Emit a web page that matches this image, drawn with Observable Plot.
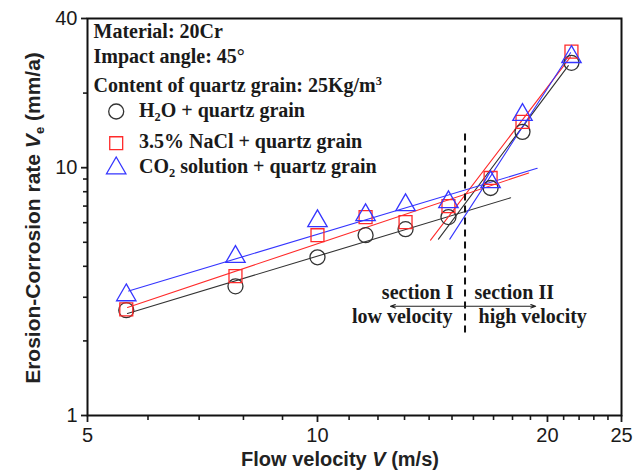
<!DOCTYPE html>
<html><head><meta charset="utf-8">
<script src="https://cdn.jsdelivr.net/npm/d3@7"></script>
<script src="https://cdn.jsdelivr.net/npm/@observablehq/plot@0.6"></script>
<style>body{margin:0;background:#fff} #chart{width:633px;height:473px}</style>
</head><body><div id="chart"></div>
<script>
// ---- data ----
const velocity = [5.62, 7.81, 10.0, 11.56, 13.04, 14.84, 16.85, 18.55, 21.5];
const rateH2O  = [2.66, 3.32, 4.35, 5.34, 5.65, 6.32, 8.28, 13.95, 26.5];
const rateNaCl = [2.68, 3.65, 5.34, 6.32, 6.03, 7.00, 9.09, 15.3, 29.4];
const rateCO2  = [3.06, 4.37, 6.09, 6.44, 7.07, 7.27, 8.75, 16.34, 28.0];

// fitted lines (end points)
const lowFitV  = {H2O: [5.64, 17.9], NaCl: [5.64, 18.9], CO2: [5.66, 19.39]};
const lowFitR  = {H2O: [2.58, 7.56], NaCl: [2.73, 9.52], CO2: [3.18, 9.94]};
const highFitV = {H2O: [14.4, 21.3], NaCl: [14.06, 21.44], CO2: [14.9, 21.44]};
const highFitR = {H2O: [5.15, 25.8], NaCl: [5.10, 28.0], CO2: [5.15, 29.1]};

const boundaryV = 15.6;
const boundaryR = [2.15, 13.9];
const arrowR = 2.76;
const arrowV = [12.46, 19.3];

const xTicks = [5, 10, 20, 25];
const xMinor = [6, 7, 8, 9, 11, 12, 13, 14, 15, 16, 17, 18, 19, 21, 22, 23, 24];
const yTicks = [1, 10, 40];
const yMinor = [2, 3, 4, 5, 6, 7, 8, 9, 20];

const seriesKeys = ["H2O", "NaCl", "CO2"];
const seriesRates = {H2O: rateH2O, NaCl: rateNaCl, CO2: rateCO2};
const seriesColor = {H2O: "#333333", NaCl: "#ff2a2a", CO2: "#3535ff"};
const seriesSymbol = {H2O: "circle", NaCl: "square", CO2: "triangle"};

// ---- build tables ----
const points = seriesKeys.flatMap(k => velocity.map((v, i) => ({k, v, r: seriesRates[k][i]})));
const fitLines = seriesKeys.flatMap(k => [
  {k, seg: "low", v: lowFitV[k][0], r: lowFitR[k][0]},
  {k, seg: "low", v: lowFitV[k][1], r: lowFitR[k][1]},
  {k, seg: "high", v: highFitV[k][0], r: highFitR[k][0]},
  {k, seg: "high", v: highFitV[k][1], r: highFitR[k][1]}
]);

const W = 633, H = 473, mL = 87, mR = 12, mT = 18, mB = 58;
const sans = "'Liberation Sans', Arial, sans-serif";
const serif = "'Liberation Serif', 'Times New Roman', serif";

const legendDy = {H2O: 93, NaCl: 124.7, CO2: 149.7};

const plot = Plot.plot({
  width: W, height: H,
  marginLeft: mL, marginRight: mR, marginTop: mT, marginBottom: mB,
  style: {fontFamily: sans, fontSize: "20px", background: "#fff", color: "#1a1a1a"},
  x: {type: "log", domain: [5, 25], label: null},
  y: {type: "log", domain: [1, 40], label: null},
  marks: [
    Plot.axisX({ticks: xMinor, tickSize: 5, tickFormat: () => "", label: null, strokeWidth: 1.6}),
    Plot.axisX({ticks: xTicks, tickSize: 7, tickPadding: 5, tickFormat: d => String(d), label: null, strokeWidth: 1.8}),
    Plot.axisY({ticks: yMinor, tickSize: 4, tickFormat: () => "", label: null, strokeWidth: 1.6}),
    Plot.axisY({ticks: yTicks, tickSize: 6, tickPadding: 4, tickFormat: d => String(d), label: null, strokeWidth: 1.8}),
    Plot.frame({stroke: "#111", strokeWidth: 2}),
    Plot.line(fitLines, {x: "v", y: "r", z: d => d.k + d.seg, stroke: d => seriesColor[d.k], strokeWidth: 1.1}),
    Plot.ruleX([boundaryV], {y1: boundaryR[0], y2: boundaryR[1], stroke: "#111", strokeWidth: 2, strokeDasharray: "7,5"}),
    Plot.arrow(arrowV, {x1: boundaryV, x2: d => d, y1: arrowR, y2: arrowR, stroke: "#222", strokeWidth: 1.1, headLength: 7, headAngle: 40, bend: 0}),
    ...seriesKeys.map(k => Plot.dot(points.filter(d => d.k === k), {
      x: "v", y: "r", symbol: () => seriesSymbol[k], r: k === "CO2" ? 7.2 : (k === "NaCl" ? 7.3 : 7.5),
      stroke: seriesColor[k], strokeWidth: 1.3, fill: "none"
    })),
    ...seriesKeys.map(k => Plot.dot([k], {
      frameAnchor: "top-left", dx: 28.7, dy: legendDy[k], symbol: () => seriesSymbol[k],
      r: k === "CO2" ? 7.2 : (k === "NaCl" ? 7.3 : 7.5), stroke: seriesColor[k], strokeWidth: 1.3, fill: "none"
    }))
  ]
});
document.getElementById("chart").appendChild(plot);

// ---- rich text (italics, sub/superscripts) ----
const svg = d3.select(plot);
const xs = plot.scale("x"), ys = plot.scale("y");

function rich(x, y, parts, opts = {}) {
  const t = svg.append("text").attr("x", x).attr("y", y)
    .attr("font-family", opts.family || serif).attr("font-size", opts.size || 20)
    .attr("font-weight", opts.weight || "bold").attr("fill", opts.fill || "#1a1a1a")
    .attr("text-anchor", opts.anchor || "start");
  if (opts.rotate) t.attr("transform", `rotate(${opts.rotate},${x},${y})`);
  for (const p of parts) {
    const s = t.append("tspan").text(p.t);
    if (p.italic) s.attr("font-style", "italic");
    if (p.sub) s.attr("baseline-shift", "-30%").attr("font-size", (opts.size || 20) * 0.62);
    if (p.sup) s.attr("baseline-shift", "55%").attr("font-size", (opts.size || 20) * 0.62);
  }
  return t;
}

rich(93.5, 37.5, [{t: "Material: 20Cr"}]);
rich(93.5, 63, [{t: "Impact angle: 45°"}]);
rich(93.5, 91.5, [{t: "Content of quartz grain: 25Kg/m"}, {t: "3", sup: true}]);
rich(139, 116.7, [{t: "H"}, {t: "2", sub: true}, {t: "O + quartz grain"}]);
rich(139, 148.3, [{t: "3.5% NaCl + quartz grain"}]);
rich(139, 173.3, [{t: "CO"}, {t: "2", sub: true}, {t: " solution + quartz grain"}]);

const bx = xs.apply(boundaryV);
rich(bx - 11, ys.apply(2.94), [{t: "section I"}], {anchor: "end"});
rich(bx + 10, ys.apply(2.94), [{t: "section II"}], {anchor: "start"});
rich(bx - 12, ys.apply(2.36), [{t: "low velocity"}], {anchor: "end"});
rich(bx + 14, ys.apply(2.36), [{t: "high velocity"}], {anchor: "start"});

// axis titles
rich(340, 466, [{t: "Flow velocity "}, {t: "V", italic: true}, {t: " (m/s)"}],
  {family: sans, size: 20, anchor: "middle", fill: "#222"});
rich(40, 218, [{t: "Erosion-Corrosion rate "}, {t: "V", italic: true}, {t: "e", sub: true}, {t: " (mm/a)"}],
  {family: sans, size: 21, anchor: "middle", rotate: -90, fill: "#222"});
</script>
</body></html>
